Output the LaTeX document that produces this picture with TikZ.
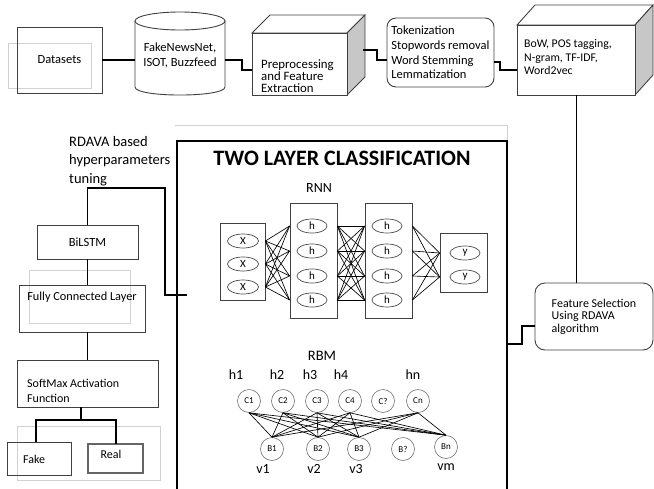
\documentclass[tikz,border=0pt]{standalone}
\usepackage{fontspec}
\setmainfont{Carlito}
\usetikzlibrary{shapes.geometric}
\begin{document}
\begin{tikzpicture}[x=1pt,y=-1pt,
  bx/.style={draw=black!75, line width=0.9pt, inner sep=0pt, outer sep=0pt},
  faint/.style={draw=black!18, line width=0.7pt},
  conn/.style={draw=black, line width=1.2pt},
  thinl/.style={draw=black, line width=0.65pt},
  tx/.style={inner sep=0pt, align=left, font=\fontsize{12}{14}\selectfont},
  ell/.style={draw=black!70, ellipse, line width=0.7pt, minimum width=31pt, minimum height=14pt, inner sep=0pt, font=\fontsize{11}{12}\selectfont},
  circ/.style={draw=black!55, circle, line width=0.6pt, minimum size=23pt, inner sep=0pt, font=\fontsize{9}{10}\selectfont},
  lay/.style={draw=black!75, line width=0.8pt, inner sep=0pt, minimum width=47pt},
  lbl/.style={inner sep=0pt, font=\fontsize{14}{16}\selectfont},
  side/.style={fill=black!22, draw=black!75, line width=0.9pt},
  topf/.style={fill=white, draw=black!75, line width=0.9pt},
]
\useasboundingbox (0,0) rectangle (654,488);
\clip (0,0) rectangle (654,488);

% ---------- top row ----------
\draw[faint] (8,43) rectangle (91,88);
\node[bx, minimum width=85pt, minimum height=66pt, font=\fontsize{12.5}{14}\selectfont] (ds) at (59.5,60) {Datasets};

% cylinder
\filldraw[fill=white, draw=black!75, line width=0.9pt] (135,21) -- (135,87) .. controls (135,97.7) and (225,97.7) .. (225,87) -- (225,21);
\filldraw[fill=white, draw=black!75, line width=0.9pt] (180,21) ellipse [x radius=45, y radius=9];
\node[inner sep=0pt, minimum width=90pt, minimum height=66pt, align=center, font=\fontsize{12.5}{15}\selectfont] (cyl) at (180,55) {FakeNewsNet,\\ISOT, Buzzfeed};

% preprocessing cube
\filldraw[topf] (252,33) -- (270,15) -- (365,15) -- (347,33) -- cycle;
\filldraw[side] (347,33) -- (365,15) -- (365,77) -- (347,95) -- cycle;
\node[bx, fill=white, minimum width=95pt, minimum height=62pt] (pre) at (299.5,64) {};
\node[tx, anchor=west, font=\fontsize{12.8}{11.8}\selectfont] (pretx) at (261,76) {Preprocessing\\and Feature\\Extraction};

% tokenization
\node[bx, rounded corners=9pt, minimum width=107pt, minimum height=69pt, align=left, font=\fontsize{12.5}{14.8}\selectfont] (tok) at (440.5,52.5) {Tokenization\\Stopwords removal\\Word Stemming\\Lemmatization};

% BoW cube
\filldraw[topf] (517,25) -- (535,5) -- (653,5) -- (635,25) -- cycle;
\filldraw[side] (635,25) -- (653,5) -- (653,75) -- (635,95) -- cycle;
\node[bx, fill=white, minimum width=118pt, minimum height=70pt] (bow) at (576,60) {};
\node[tx, anchor=west, font=\fontsize{11.8}{13.5}\selectfont] (bowtx) at (524,57) {BoW, POS tagging,\\N-gram, TF-IDF,\\Word2vec};

% top connectors
\coordinate (c1) at (242,60);
\coordinate (c2) at (377,50);
\coordinate (c3) at (500,62);
\draw[conn] (ds.east) -- (ds.east -| cyl.west);
\draw[conn] (c1 -| cyl.east) -- (c1) |- ([yshift=-6pt]pre.west);
\draw[conn] (c2 -| 363,0) -- (c2) |- ([yshift=-7.5pt]tok.west);
\draw[conn] (c3 -| tok.east) -- (c3) |- ([yshift=-10pt]bow.west);

% feature selection
\node[bx, rounded corners=10pt, minimum width=118pt, minimum height=67pt, align=left, font=\fontsize{12}{12.5}\selectfont] (fs) at (594,316.5) {Feature Selection\\Using RDAVA\\algorithm};
\draw[thinl, line width=0.8pt] (bow.south) -- (bow.south |- fs.north);

% ---------- main box ----------
\draw[faint] (175,125) -- (507,125) -- (507,141);
\node[draw=black, line width=1.3pt, inner sep=0pt, minimum width=330pt, minimum height=370pt] (main) at (342,326) {};
\draw[black, line width=2pt] (177,141) -- (177,488);
\node[inner sep=0pt, font=\fontsize{22}{24}\bfseries\selectfont] (title) at (342,158) {TWO LAYER CLASSIFICATION};

\coordinate (f1) at (522,344);
\draw[conn] ([yshift=-9.5pt]fs.west) -| (f1) -- (f1 -| main.east);

% RNN
\node[lbl] (rnn) at (319,188) {RNN};
\node[lay, minimum width=45pt, minimum height=77pt] (xb) at (242.5,261.5) {};
\node[lay, minimum height=115pt] (h1b) at (313.5,260.5) {};
\node[lay, minimum height=115pt] (h2b) at (388.5,260.5) {};
\node[lay, minimum height=59pt] (yb) at (463.5,262.5) {};
\node[ell] (x1) at (243,241) {X};
\node[ell] (x2) at (243,264) {X};
\node[ell] (x3) at (243,287) {X};
\foreach \k/\yy in {1/226,2/251,3/276,4/300}{
  \node[ell, minimum width=30pt] (ha\k) at (312,\yy) {h};
  \node[ell, minimum width=30pt] (hb\k) at (387,\yy) {h};
}
\node[ell, minimum width=30pt] (y1) at (465,253) {y};
\node[ell, minimum width=30pt] (y2) at (465,277) {y};
\foreach \i in {1,2,3}{\foreach \j in {1,2,3,4}{
  \draw[thinl] (xb.east |- x\i) -- (h1b.west |- ha\j);}}
\foreach \i in {1,2,3,4}{\foreach \j in {1,2,3,4}{
  \draw[thinl] (h1b.east |- ha\i) -- (h2b.west |- hb\j);}}
\foreach \i in {1,2,3,4}{\foreach \j in {1,2}{
  \draw[thinl] (h2b.east |- hb\i) -- (yb.west |- y\j);}}

% RBM
\node[lbl, font=\fontsize{14.5}{16}\selectfont] (rbm) at (322,356) {RBM};
\node[lbl] (lh1) at (236,375) {h1};
\node[lbl] (lh2) at (277,375) {h2};
\node[lbl] (lh3) at (310,375) {h3};
\node[lbl] (lh4) at (341,375) {h4};
\node[lbl] (lhn) at (413,375) {hn};
\node[circ] (c1n) at (249,401) {C1};
\node[circ] (c2n) at (283,401) {C2};
\node[circ] (c3n) at (317,401) {C3};
\node[circ] (c4n) at (350,401) {C4};
\node[circ] (cqn) at (383,401) {C?};
\node[circ] (cnn) at (418,401) {Cn};
\node[circ] (b1n) at (272,449) {B1};
\node[circ] (b2n) at (318,449) {B2};
\node[circ] (b3n) at (359,449) {B3};
\node[circ] (bqn) at (403,449) {B?};
\node[circ] (bnn) at (446,447) {Bn};
\node[lbl] (lv1) at (263,469) {v1};
\node[lbl] (lv2) at (314,469) {v2};
\node[lbl] (lv3) at (356,469) {v3};
\node[lbl] (lvm) at (446,467) {vm};
\foreach \i in {c1n,c2n,c3n,c4n,cnn}{\foreach \j in {b1n,b2n,b3n,bnn}{
  \draw[thinl] (\i.south) -- (\j.north);}}

% ---------- left column ----------
\node[inner sep=0pt, align=left, anchor=west, font=\fontsize{14.5}{18.5}\selectfont] (tunetx) at (69,161) {RDAVA based\\hyperparameters\\tuning};
\node[bx, minimum width=101pt, minimum height=34pt, font=\fontsize{12.5}{14}\selectfont] (bil) at (87.5,242) {BiLSTM};
\draw[faint] (29,270) rectangle (130,323);
\node[bx, minimum width=126pt, minimum height=47pt] (fc) at (82,308.5) {};
\node[tx, font=\fontsize{12.3}{14}\selectfont] (fctx) at (82,297) {Fully Connected Layer};
\node[bx, minimum width=141pt, minimum height=47pt] (sm) at (87.5,383.5) {};
\node[tx, anchor=west, font=\fontsize{12}{15}\selectfont] (smtx) at (27,390.5) {SoftMax Activation\\Function};
\draw[faint] (17,426) rectangle (160,480);
\node[bx, minimum width=64pt, minimum height=33pt] (fake) at (39,458.5) {};
\node[tx, anchor=west] (faketx) at (23,459) {Fake};
\node[bx, draw=black!60, line width=1.3pt, minimum width=55pt, minimum height=29pt] (real) at (115.5,458.5) {};
\node[tx] (realtx) at (111,454) {Real};

\coordinate (tune) at (165,188);
\coordinate (tuneend) at (187,295);
\coordinate (split) at (81,420);
\draw[conn] (bil.north) |- (tune) |- (tuneend);
\draw[conn] (bil.south) -- (bil.south |- fc.north);
\draw[conn] (bil.south |- fc.south) -- (bil.south |- sm.north);
\draw[conn] (split |- sm.south) -- (split);
\draw[conn] ([xshift=-3pt]fake.north) |- (split) -| ([xshift=0.5pt]real.north);
\end{tikzpicture}
\end{document}
